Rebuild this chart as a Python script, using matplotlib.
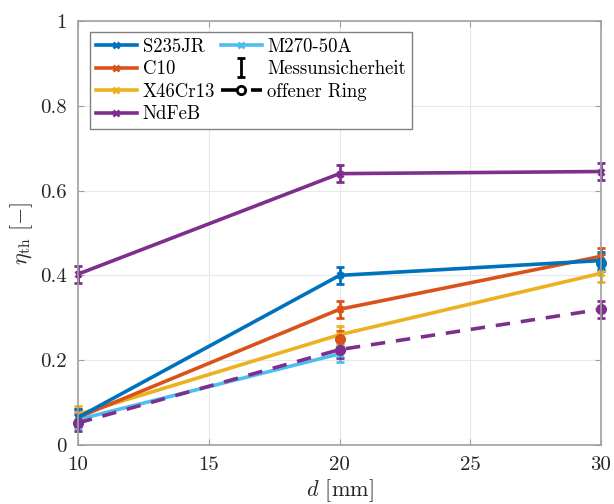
import matplotlib
matplotlib.use("Agg")
import matplotlib.pyplot as plt
from matplotlib.lines import Line2D
import numpy as np

plt.rcParams['font.family'] = 'serif'
plt.rcParams['font.serif'] = ['cmr10', 'DejaVu Serif']
plt.rcParams['mathtext.fontset'] = 'cm'
plt.rcParams['axes.unicode_minus'] = False
plt.rcParams['axes.formatter.use_mathtext'] = True

d = [10, 20, 30]
d_m270 = [10, 20]
s235jr = [0.065, 0.40, 0.435]
c10 = [0.065, 0.32, 0.445]
x46cr13 = [0.072, 0.26, 0.405]
ndfeb = [0.403, 0.64, 0.645]
m270 = [0.06, 0.215]
ndfeb_open = [0.052, 0.225, 0.32]
c10_open_d = [20]
c10_open = [0.25]
s235_open_d = [30]
s235_open = [0.43]
err = 0.02

colors = {
    'S235JR': '#0072BD',
    'C10': '#D95319',
    'X46Cr13': '#EDB120',
    'NdFeB': '#7E2F8E',
    'M270-50A': '#4DBEEE',
}

fig = plt.figure(figsize=(6.14, 5.04), dpi=100)
L, R, T, B = 78, 601, 21, 445
ax = fig.add_axes([L/614, (504-B)/504, (R-L)/614, (B-T)/504])

kw = dict(lw=2.6, marker='x', ms=4, mew=2, capsize=3, elinewidth=2, capthick=2)
series = [('M270-50A', d_m270, m270), ('X46Cr13', d, x46cr13), ('C10', d, c10),
          ('S235JR', d, s235jr), ('NdFeB', d, ndfeb)]
for name, xs, ys in series:
    ax.errorbar(xs, ys, yerr=err, color=colors[name], label=name, clip_on=False, **kw)

okw = dict(marker='o', ms=7, capsize=3, elinewidth=2, capthick=2, clip_on=False)
ax.errorbar(d, ndfeb_open, yerr=err, color=colors['NdFeB'], lw=2.6, ls=(0, (4, 3)), **okw)
ax.errorbar(c10_open_d, c10_open, yerr=err, color=colors['C10'], lw=0, **okw)
ax.errorbar(s235_open_d, s235_open, yerr=err, color=colors['S235JR'], lw=0, **okw)

ax.set_xlim(10, 30)
ax.set_ylim(0, 1)
ax.set_xticks([10, 15, 20, 25, 30])
ax.set_yticks([0, 0.2, 0.4, 0.6, 0.8, 1])
ax.set_yticklabels(['0', '0.2', '0.4', '0.6', '0.8', '1'])
ax.set_xticklabels(['10', '15', '20', '25', '30'])
ax.grid(True, color='#e8e8e8', lw=0.8)
ax.set_axisbelow(True)
for s in ax.spines.values():
    s.set_color('#a0a0a0')
    s.set_linewidth(1.2)
ax.tick_params(direction='in', length=4, color='#a0a0a0', labelsize=15,
               labelcolor='#262626', top=True, right=True, pad=8)
ax.set_xlabel(r'$d$ [mm]', fontsize=16, color='#262626', labelpad=2)
ax.set_ylabel(r'$\eta_\mathrm{th}$ [$-$]', fontsize=16, color='#262626', labelpad=4)

# legend
def lh(name):
    return Line2D([], [], color=colors[name], lw=2.6, marker='x', ms=4, mew=2)

h_mess = ax.errorbar([-100], [0.5], yerr=[0.1], color='black', lw=0, capsize=3,
                     elinewidth=2, capthick=2)
h_open = Line2D([], [], color='black', lw=2.6, ls=(0, (6.5, 1.8)), marker='o', ms=6,
                mfc='white', mew=2)
leg_handles = [lh('S235JR'), lh('C10'), lh('X46Cr13'), lh('NdFeB'),
               lh('M270-50A'), h_mess, h_open]
leg_labels = ['S235JR', 'C10', 'X46Cr13', 'NdFeB', 'M270-50A', 'Messunsicherheit', 'offener Ring']
leg = ax.legend(leg_handles, leg_labels, ncol=2, loc='upper left',
                bbox_to_anchor=((90-L)/(R-L), (B-32)/(B-T)),
                fontsize=13.5, frameon=True, fancybox=False, edgecolor='#808080',
                handlelength=2.2, handletextpad=0.3, columnspacing=0.3, labelspacing=0.25,
                borderpad=0.3, borderaxespad=0, framealpha=1)
leg.get_frame().set_linewidth(1.0)

fig.savefig('out.png', dpi=100)
